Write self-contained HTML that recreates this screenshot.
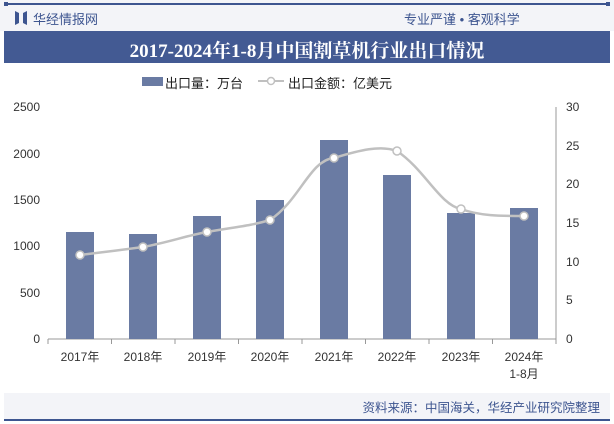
<!DOCTYPE html>
<html><head><meta charset="utf-8"><style>
body{margin:0;width:614px;height:424px;background:#fff;font-family:"Liberation Sans","Noto Sans CJK SC",sans-serif;overflow:hidden;position:relative}
.t{position:absolute;white-space:nowrap}
</style></head><body>
<div style="position:absolute;left:0;top:0;width:614px;height:31px;background:#f3f4f8"></div>
<div style="position:absolute;left:4px;top:3px;width:606px;height:1.5px;background:#3d5590"></div>
<div style="position:absolute;left:4px;top:2px;width:4px;height:4px;background:#3d5590"></div>
<div style="position:absolute;left:606px;top:2px;width:4px;height:4px;background:#3d5590"></div>
<svg class="t" style="left:15px;top:11px" width="12" height="14"><path d="M0 0 L4 2 L4 12 L0 14Z M12 0 L8 2 L8 12 L12 14Z" fill="#3d5590"/></svg>
<div class="t" style="left:33px;top:9px;font-size:13px;color:#3d5590">华经情报网</div>
<div class="t" style="right:107px;top:9px;font-size:13px;color:#3d5590;left:404px">专业严谨 • 客观科学</div>
<div style="position:absolute;left:4px;top:31px;width:606px;height:32px;background:#435a93"></div>
<div class="t" style="left:4px;width:606px;top:36px;text-align:center;font-size:19px;font-weight:bold;color:#fff;font-family:'Liberation Serif','Noto Serif CJK SC',serif">2017-2024年1-8月中国割草机行业出口情况</div>
<div style="position:absolute;left:142px;top:77px;width:21px;height:9px;background:#6a7ba3"></div>
<div class="t" style="left:165px;top:73px;font-size:13px;color:#222">出口量：万台</div>
<svg class="t" style="left:256px;top:74px" width="30" height="14"><line x1="2" y1="7" x2="28" y2="7" stroke="#c0c0c0" stroke-width="2"/><circle cx="15" cy="7" r="3.5" fill="#fff" stroke="#c0c0c0" stroke-width="1.5"/></svg>
<div class="t" style="left:288px;top:73px;font-size:13px;color:#222">出口金额：亿美元</div>
<svg class="t" style="left:0;top:0" width="614" height="424">
<g font-size="12" fill="#333" font-family="Liberation Sans,sans-serif">
<text x="40" y="111" text-anchor="end">2500</text><text x="40" y="158" text-anchor="end">2000</text><text x="40" y="250" text-anchor="end" dy="-46">1500</text>
<text x="40" y="250" text-anchor="end">1000</text><text x="40" y="297" text-anchor="end">500</text><text x="40" y="343" text-anchor="end">0</text>
<text x="566" y="111">30</text><text x="566" y="150">25</text><text x="566" y="188">20</text><text x="566" y="227">15</text><text x="566" y="266">10</text><text x="566" y="304">5</text><text x="566" y="343">0</text>
</g>
<line x1="48" y1="339" x2="556" y2="339" stroke="#999"/>
<line x1="556" y1="107" x2="556" y2="339" stroke="#999"/>
<g stroke="#999"><line x1="48" y1="339" x2="48" y2="344"/><line x1="111.5" y1="339" x2="111.5" y2="344"/><line x1="175" y1="339" x2="175" y2="344"/><line x1="238.5" y1="339" x2="238.5" y2="344"/><line x1="302" y1="339" x2="302" y2="344"/><line x1="365.5" y1="339" x2="365.5" y2="344"/><line x1="429" y1="339" x2="429" y2="344"/><line x1="492.5" y1="339" x2="492.5" y2="344"/><line x1="556" y1="339" x2="556" y2="344"/></g>
<g fill="#6a7ba3">
<rect x="66" y="232" width="28" height="107"/><rect x="129" y="234" width="28" height="105"/><rect x="193" y="216" width="28" height="123"/><rect x="256" y="200" width="28" height="139"/>
<rect x="320" y="140" width="28" height="199"/><rect x="383" y="175" width="28" height="164"/><rect x="447" y="213" width="28" height="126"/><rect x="510" y="208" width="28" height="131"/>
</g>
<path d="M80 255 C105 252,120 250,143 247 C170 242,185 236,207 232 C235 227,250 226,270 220 C300 200,310 160,334 158 C360 150,380 145,397 151 C425 170,440 205,461 209 C480 216,500 216,524 216" fill="none" stroke="#c0c0c0" stroke-width="2.5"/>
<g fill="#fff" stroke="#c0c0c0" stroke-width="1.5">
<circle cx="80" cy="255" r="4"/><circle cx="143" cy="247" r="4"/><circle cx="207" cy="232" r="4"/><circle cx="270" cy="220" r="4"/><circle cx="334" cy="158" r="4"/><circle cx="397" cy="151" r="4"/><circle cx="461" cy="209" r="4"/><circle cx="524" cy="216" r="4"/>
</g>
<g font-size="12" fill="#333" text-anchor="middle" font-family="Liberation Sans,Noto Sans CJK SC,sans-serif">
<text x="80" y="361">2017年</text><text x="143" y="361">2018年</text><text x="207" y="361">2019年</text><text x="270" y="361">2020年</text><text x="334" y="361">2021年</text><text x="397" y="361">2022年</text><text x="461" y="361">2023年</text><text x="524" y="361">2024年</text><text x="524" y="378">1-8月</text>
</g>
</svg>
<div style="position:absolute;left:4px;top:393px;width:606px;height:26px;background:#f3f4f8"></div>
<div class="t" style="right:14px;top:397px;font-size:12.5px;color:#3d5590">资料来源：中国海关，华经产业研究院整理</div>
<div style="position:absolute;left:4px;top:419px;width:606px;height:1.5px;background:#3d5590"></div>
</body></html>
